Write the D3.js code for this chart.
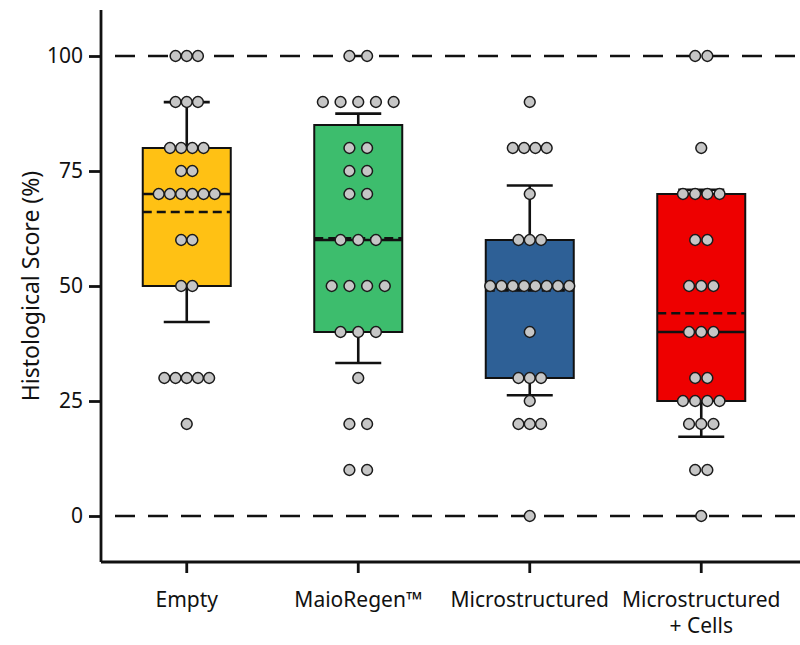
<!DOCTYPE html>
<html>
<head>
<meta charset="utf-8">
<script src="https://cdn.jsdelivr.net/npm/d3@7"></script>
<style>
  body { margin: 0; background: #fff; }
  text { font-family: "Noto Sans", "Open Sans", sans-serif; fill: #111; }
</style>
</head>
<body>
<div id="chart"></div>
<script>
// values
const categories = ["Empty", "MaioRegen™", "Microstructured", "Microstructured|+ Cells"];
const emptyScores = [100, 100, 100, 90, 90, 90, 80, 80, 80, 80, 75, 75, 70, 70, 70, 70, 70, 70, 60, 60, 50, 50, 30, 30, 30, 30, 30, 20];
const maioScores = [100, 100, 90, 90, 90, 90, 90, 80, 80, 75, 75, 70, 70, 60, 60, 60, 50, 50, 50, 50, 40, 40, 40, 30, 20, 20, 10, 10];
const microScores = [90, 80, 80, 80, 80, 70, 60, 60, 60, 50, 50, 50, 50, 50, 50, 50, 50, 40, 30, 30, 30, 25, 20, 20, 20, 0];
const microCellsScores = [100, 100, 80, 70, 70, 70, 70, 60, 60, 50, 50, 50, 40, 40, 40, 30, 30, 25, 25, 25, 25, 20, 20, 20, 10, 10, 0];
const yTicks = [0, 25, 50, 75, 100];
const refLines = [0, 100];

const groups = [emptyScores, maioScores, microScores, microCellsScores];
const boxColors = ["#ffc114", "#3dbd6d", "#2e6096", "#ee0000"];
const dotGap = [11.2, 17.7, 11.3, 12.2];

const width = 800;
const height = 645;

const svg = d3.select("#chart")
  .append("svg")
  .attr("width", width)
  .attr("height", height);

const x = d3.scaleBand()
  .domain(categories)
  .range([101, 787]);

const y = d3.scaleLinear()
  .domain([-10, 110])
  .range([562, 10]);

// Tukey hinges: median of each half
function hinges(values) {
  const s = values.slice().sort(d3.ascending);
  const n = s.length;
  const half = Math.floor(n / 2);
  const lower = s.slice(0, half);
  const upper = s.slice(n % 2 ? half + 1 : half);
  return { q1: d3.median(lower), med: d3.median(s), q3: d3.median(upper) };
}

const stats = groups.map((vals, i) => {
  const h = hinges(vals);
  const mean = d3.mean(vals);
  const sd = d3.deviation(vals);
  return { cat: categories[i], ...h, mean, lo: mean - sd, hi: mean + sd };
});

// reference lines at 0 and 100
svg.selectAll(".ref")
  .data(refLines)
  .join("line")
  .attr("x1", 101)
  .attr("x2", width)
  .attr("y1", (d) => y(d))
  .attr("y2", (d) => y(d))
  .attr("stroke", "#111")
  .attr("stroke-width", 2.6)
  .attr("stroke-dasharray", "20,13")
  .attr("stroke-dashoffset", -14);

const boxW = 88;
const capW = 46;

const g = svg.selectAll(".grp")
  .data(stats)
  .join("g")
  .attr("transform", (d) => `translate(${x(d.cat) + x.bandwidth() / 2},0)`);

// whiskers (mean +/- SD)
g.append("line")
  .attr("y1", (d) => y(d.hi))
  .attr("y2", (d) => y(d.lo))
  .attr("stroke", "#111")
  .attr("stroke-width", 2.6);

g.selectAll(".cap")
  .data((d) => [d.lo, d.hi])
  .join("line")
  .attr("x1", -capW / 2)
  .attr("x2", capW / 2)
  .attr("y1", (d) => y(d))
  .attr("y2", (d) => y(d))
  .attr("stroke", "#111")
  .attr("stroke-width", 2.6);

g.append("rect")
  .attr("x", -boxW / 2)
  .attr("width", boxW)
  .attr("y", (d) => y(d.q3))
  .attr("height", (d) => y(d.q1) - y(d.q3))
  .attr("fill", (d, i) => boxColors[i])
  .attr("stroke", "#111")
  .attr("stroke-width", 2);

// mean (dashed) and median (solid)
g.append("line")
  .attr("x1", -boxW / 2)
  .attr("x2", boxW / 2)
  .attr("y1", (d) => y(d.mean))
  .attr("y2", (d) => y(d.mean))
  .attr("stroke", "#111")
  .attr("stroke-width", 2.6)
  .attr("stroke-dasharray", "9,5");

g.append("line")
  .attr("x1", -boxW / 2)
  .attr("x2", boxW / 2)
  .attr("y1", (d) => y(d.med))
  .attr("y2", (d) => y(d.med))
  .attr("stroke", "#111")
  .attr("stroke-width", 2.6);

// dots, spread sideways in rows of equal value
const dots = [];
groups.forEach((vals, gi) => {
  const rows = d3.group(vals, (v) => v);
  rows.forEach((row, v) => {
    row.forEach((_, k) => {
      dots.push({ gi, v, off: (k - (row.length - 1) / 2) * dotGap[gi] });
    });
  });
});

svg.selectAll(".dot")
  .data(dots)
  .join("circle")
  .attr("cx", (d) => x(categories[d.gi]) + x.bandwidth() / 2 + d.off)
  .attr("cy", (d) => y(d.v))
  .attr("r", 5.4)
  .attr("fill", "#c6c6c6")
  .attr("stroke", "#1a1a1a")
  .attr("stroke-width", 1.5);

// axes
const yAxis = svg.append("g")
  .attr("transform", "translate(101,0)")
  .call(d3.axisLeft(y).tickValues(yTicks).tickSize(12).tickPadding(6));
yAxis.select(".domain").attr("d", `M0,${y(110)}V${y(-10)}`);

const xAxis = svg.append("g")
  .attr("transform", `translate(0,${y(-10)})`)
  .call(d3.axisBottom(x).tickSize(11).tickPadding(14).tickFormat(""));
xAxis.select(".domain").attr("d", `M101,0H${width}`);

svg.selectAll(".domain, .tick line")
  .attr("stroke", "#111")
  .attr("stroke-width", 2.8);

yAxis.selectAll(".tick text")
  .style("font-size", "21px")
  .style("font-family", "Noto Sans, sans-serif")
  .attr("fill", "#111");

xAxis.selectAll(".tick")
  .append("text")
  .attr("text-anchor", "middle")
  .style("font-size", "21px")
  .attr("fill", "#111")
  .selectAll("tspan")
  .data((d) => d.split("|"))
  .join("tspan")
  .attr("x", 0)
  .attr("y", (d, i) => 45 + i * 26)
  .text((d) => d);

svg.append("text")
  .attr("transform", `translate(39,${y(50)}) rotate(-90)`)
  .attr("text-anchor", "middle")
  .style("font-size", "23px")
  .text("Histological Score (%)");
</script>
</body>
</html>
